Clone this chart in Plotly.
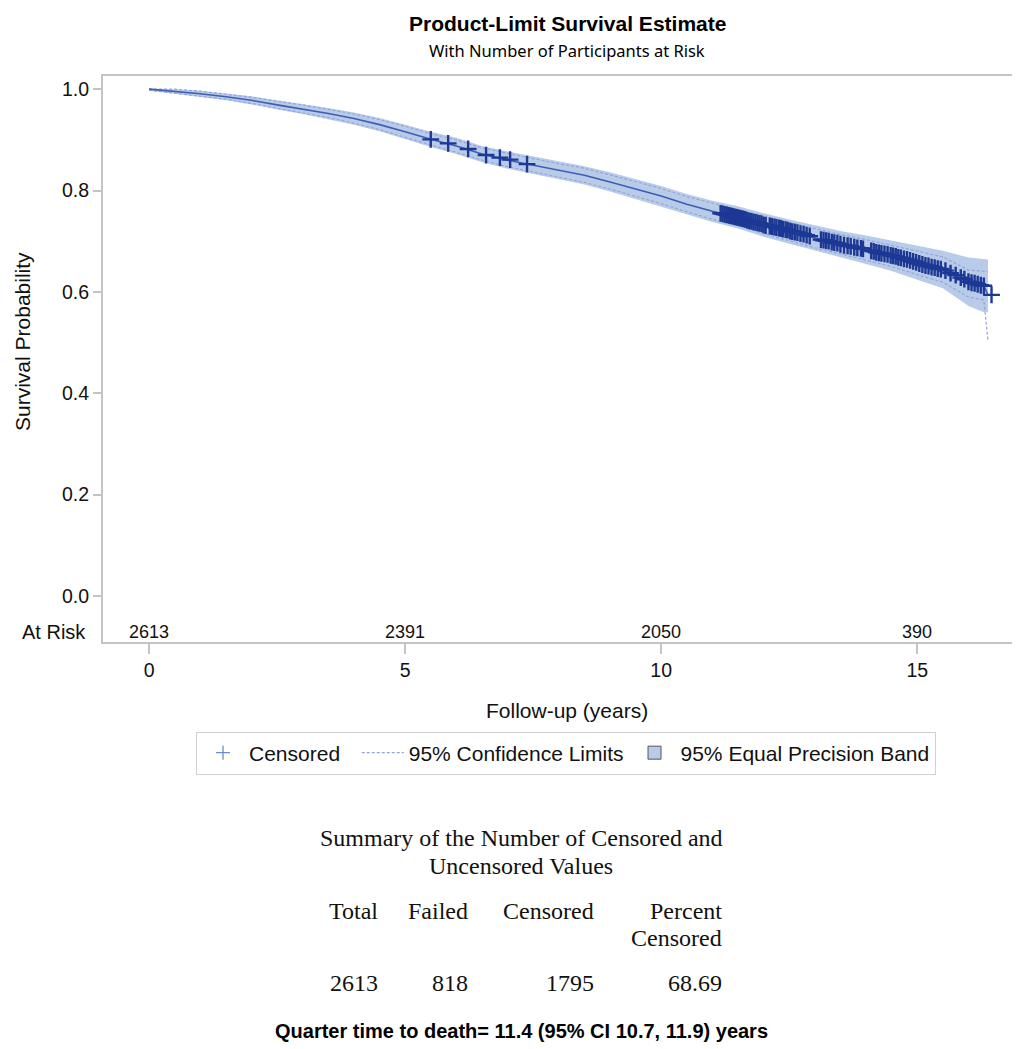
import plotly.graph_objects as go

# ---------------- data ----------------
time = [0, 0.5, 1, 1.5, 2, 2.5, 3, 3.5, 4, 4.5, 5, 5.5, 6, 6.5, 7, 7.5, 8, 8.5, 9, 9.5,
        10, 10.5, 11, 11.5, 12, 12.5, 13, 13.5, 14, 14.5, 15, 15.5, 16, 16.3, 16.38]
survival = [1.000, 0.996, 0.991, 0.985, 0.978, 0.969, 0.961, 0.952, 0.942, 0.930, 0.916,
            0.901, 0.888, 0.872, 0.860, 0.850, 0.840, 0.830, 0.817, 0.803, 0.789, 0.773,
            0.759, 0.747, 0.732, 0.719, 0.706, 0.694, 0.683, 0.671, 0.657, 0.644, 0.620,
            0.612, 0.594]
band_upper = [1.001, 1.000, 0.997, 0.992, 0.986, 0.978, 0.971, 0.963, 0.954, 0.943, 0.930,
              0.916, 0.904, 0.888, 0.877, 0.867, 0.858, 0.848, 0.836, 0.822, 0.809, 0.793,
              0.780, 0.769, 0.755, 0.743, 0.731, 0.720, 0.711, 0.701, 0.690, 0.681, 0.668,
              0.664, 0.664]
band_lower = [0.997, 0.991, 0.985, 0.978, 0.970, 0.960, 0.951, 0.941, 0.930, 0.917, 0.902,
              0.886, 0.872, 0.856, 0.843, 0.833, 0.822, 0.812, 0.798, 0.784, 0.769, 0.753,
              0.738, 0.725, 0.709, 0.695, 0.681, 0.668, 0.655, 0.641, 0.624, 0.607, 0.572,
              0.560, 0.560]
cl_upper = [1.000, 1.000, 0.996, 0.990, 0.984, 0.976, 0.969, 0.960, 0.951, 0.940, 0.927,
            0.912, 0.900, 0.884, 0.873, 0.863, 0.853, 0.844, 0.831, 0.817, 0.804, 0.788,
            0.775, 0.763, 0.749, 0.737, 0.725, 0.713, 0.703, 0.692, 0.680, 0.669, 0.643,
            0.640, 0.640]
cl_lower = [0.998, 0.992, 0.986, 0.980, 0.972, 0.962, 0.953, 0.944, 0.933, 0.920, 0.905,
            0.890, 0.876, 0.860, 0.847, 0.837, 0.827, 0.816, 0.803, 0.789, 0.774, 0.758,
            0.743, 0.731, 0.715, 0.701, 0.687, 0.675, 0.663, 0.650, 0.634, 0.619, 0.590,
            0.584, 0.505]

censor_time = [5.50, 5.84, 6.23, 6.58, 6.85, 7.05, 7.38,
               11.16, 11.20, 11.24, 11.28, 11.32, 11.36, 11.40, 11.44, 11.48, 11.52, 11.56,
               11.60, 11.64, 11.68, 11.72, 11.76, 11.80, 11.84, 11.88, 11.92, 11.96, 12.00, 12.04,
               12.12, 12.16, 12.21, 12.25, 12.30, 12.34, 12.38, 12.43, 12.47, 12.52, 12.56,
               12.61, 12.66, 12.72, 12.78, 12.84, 12.90,
               13.12, 13.17, 13.22, 13.27, 13.33, 13.38, 13.44, 13.50, 13.57, 13.64, 13.70,
               13.77, 13.83, 13.90, 13.94,
               14.10, 14.15, 14.20, 14.25, 14.30, 14.36, 14.42, 14.48, 14.53, 14.58, 14.63,
               14.68, 14.74, 14.80, 14.86, 14.92, 14.98, 15.04, 15.10, 15.16, 15.22, 15.28,
               15.34, 15.40, 15.46, 15.55,
               15.65, 15.75, 15.85, 15.92, 16.00, 16.06, 16.12, 16.18, 16.24, 16.30, 16.45]
censor_surv = [0.901, 0.893, 0.882, 0.870, 0.865, 0.861, 0.852,
               0.755, 0.754, 0.753, 0.752, 0.751, 0.750, 0.749, 0.748, 0.747, 0.746, 0.745,
               0.744, 0.743, 0.741, 0.740, 0.739, 0.738, 0.737, 0.736, 0.735, 0.734, 0.732, 0.731,
               0.730, 0.729, 0.728, 0.727, 0.726, 0.725, 0.724, 0.723, 0.722, 0.720, 0.719,
               0.718, 0.717, 0.715, 0.714, 0.712, 0.710,
               0.703, 0.702, 0.701, 0.700, 0.698, 0.697, 0.696, 0.694, 0.692, 0.691, 0.690,
               0.688, 0.687, 0.686, 0.685,
               0.681, 0.680, 0.678, 0.677, 0.676, 0.675, 0.674, 0.672, 0.671, 0.670, 0.668,
               0.667, 0.665, 0.664, 0.662, 0.660, 0.658, 0.656, 0.654, 0.652, 0.651, 0.649,
               0.648, 0.646, 0.645, 0.642,
               0.637, 0.633, 0.628, 0.625, 0.620, 0.618, 0.617, 0.615, 0.613, 0.612, 0.594]

at_risk_time = [0, 5, 10, 15]
at_risk_n = ["2613", "2391", "2050", "390"]
at_risk_y = -0.071

x_ticks = [0, 5, 10, 15]
y_ticks = [0.0, 0.2, 0.4, 0.6, 0.8, 1.0]
y_tick_text = ["0.0", "0.2", "0.4", "0.6", "0.8", "1.0"]

table_headers = ["Total", "Failed", "Censored", "Percent<br>Censored"]
table_values = ["2613", "818", "1795", "68.69"]

# ---------------- styling ----------------
W, H = 1018, 1049
L, R, T, B = 103, 1012, 76, 642
SANS = "Liberation Sans, Arial, sans-serif"
SERIF = "Liberation Serif, Times New Roman, serif"
LINE_BLUE = "#3d5eb3"
MARK_BLUE = "#1c3894"
BAND = "#b8cbe8"
CL_COL = "#95a5d8"
TXT = "#111111"
NB = "\u00a0"


def px(xp):
    return (xp - L) / (R - L)


def py(yp):
    return (B - yp) / (B - T)


fig = go.Figure()

# equal precision band
fig.add_trace(go.Scatter(
    x=time + time[::-1], y=band_upper + band_lower[::-1],
    fill="toself", fillcolor=BAND, line=dict(width=0, color=BAND),
    showlegend=False, hoverinfo="skip"))

# confidence limits
fig.add_trace(go.Scatter(
    x=time, y=cl_upper, mode="lines", line=dict(color=CL_COL, width=1.2, dash="3px,2px"),
    showlegend=False))
fig.add_trace(go.Scatter(
    x=time, y=cl_lower, mode="lines", line=dict(color=CL_COL, width=1.2, dash="3px,2px"),
    showlegend=False))

# survival curve
fig.add_trace(go.Scatter(
    x=time, y=survival, mode="lines", line=dict(color=LINE_BLUE, width=1.6),
    showlegend=False))

# censored marks
fig.add_trace(go.Scatter(
    x=censor_time, y=censor_surv, mode="markers",
    marker=dict(symbol="cross-thin", size=12, line=dict(color=MARK_BLUE, width=2.4)),
    showlegend=False))

# legend entries
fig.add_trace(go.Scatter(
    x=[None], y=[None], mode="markers", name="Censored" + NB * 2,
    marker=dict(symbol="cross-thin", size=10, line=dict(color="#6f8ccc", width=1.3))))
fig.add_trace(go.Scatter(
    x=[None], y=[None], mode="lines", name="95% Confidence Limits",
    line=dict(color=CL_COL, width=1.2, dash="3px,2px")))
fig.add_trace(go.Scatter(
    x=[None], y=[None], mode="markers", name="95% Equal Precision Band",
    marker=dict(symbol="square", size=13, color=BAND, line=dict(color="#555555", width=1))))

annotations = []
# at-risk numbers
for t, n in zip(at_risk_time, at_risk_n):
    annotations.append(dict(x=t, y=at_risk_y, xref="x", yref="y", text=n, showarrow=False,
                            xanchor="center", yanchor="middle",
                            font=dict(family=SANS, size=18, color=TXT)))
annotations.append(dict(x=0, y=at_risk_y, xref="paper", yref="y", text="At Risk",
                        showarrow=False, xanchor="right", yanchor="middle", xshift=-15,
                        font=dict(family=SANS, size=20, color=TXT)))

# axis titles
annotations.append(dict(x=px(22), y=py(342), xref="paper", yref="paper",
                        text="Survival Probability", textangle=-90, showarrow=False,
                        xanchor="center", yanchor="middle",
                        font=dict(family=SANS, size=21, color=TXT)))
annotations.append(dict(x=px(567), y=py(710), xref="paper", yref="paper",
                        text="Follow-up (years)", showarrow=False,
                        xanchor="center", yanchor="middle",
                        font=dict(family=SANS, size=21, color=TXT)))

# titles
annotations.append(dict(x=px(567), y=py(23), xref="paper", yref="paper",
                        text="<b>Product-Limit Survival Estimate</b>", showarrow=False,
                        xanchor="center", yanchor="middle",
                        font=dict(family=SANS, size=21, color="#000")))
annotations.append(dict(x=px(567), y=py(51), xref="paper", yref="paper",
                        text="With Number of Participants at Risk", showarrow=False,
                        xanchor="center", yanchor="middle",
                        font=dict(family="Noto Sans, Open Sans, sans-serif", size=16.5, color="#000")))

# summary table
annotations.append(dict(x=px(521), y=py(838), xref="paper", yref="paper",
                        text="Summary of the Number of Censored and",
                        showarrow=False, xanchor="center", yanchor="middle",
                        font=dict(family=SERIF, size=24, color=TXT)))
annotations.append(dict(x=px(521), y=py(866), xref="paper", yref="paper",
                        text="Uncensored Values",
                        showarrow=False, xanchor="center", yanchor="middle",
                        font=dict(family=SERIF, size=24, color=TXT)))
col_right = [380, 470, 596, 724]
for cx, hd, val in zip(col_right, table_headers, table_values):
    parts = hd.split("<br>")
    for i, ptxt in enumerate(parts):
        annotations.append(dict(x=px(cx), y=py(911 + 27 * i), xref="paper", yref="paper",
                                text=ptxt, showarrow=False, xanchor="right", yanchor="middle",
                                font=dict(family=SERIF, size=24, color=TXT)))
    annotations.append(dict(x=px(cx), y=py(983), xref="paper", yref="paper", text=val,
                            showarrow=False, xanchor="right", yanchor="middle",
                            font=dict(family=SERIF, size=24, color=TXT)))

annotations.append(dict(x=px(521), y=py(1031), xref="paper", yref="paper",
                        text="<b>Quarter time to death= 11.4 (95% CI 10.7, 11.9) years</b>",
                        showarrow=False, xanchor="center", yanchor="middle",
                        font=dict(family=SANS, size=20, color="#000")))

fig.update_layout(
    width=W, height=H,
    margin=dict(l=L, r=W - R, t=T, b=H - B, pad=0),
    paper_bgcolor="white", plot_bgcolor="white",
    font=dict(family=SANS, size=19, color=TXT),
    showlegend=True,
    legend=dict(orientation="h", x=px(566), y=py(753), xanchor="center", yanchor="middle",
                bordercolor="#d0d0d0", borderwidth=1, bgcolor="white",
                font=dict(family=SANS, size=21, color=TXT),
                itemwidth=42, tracegroupgap=0),
    annotations=annotations,
    xaxis=dict(range=[-0.9, 16.85], tickvals=x_ticks, ticktext=[str(v) for v in x_ticks],
               showgrid=False, zeroline=False, showline=True, mirror=True,
               linecolor="#c4c4c4", linewidth=2, ticks="outside", ticklen=10,
               tickcolor="#c4c4c4", tickwidth=1.5,
               tickfont=dict(family=SANS, size=19.5, color=TXT)),
    yaxis=dict(range=[-0.091, 1.026], tickvals=y_ticks, ticktext=y_tick_text,
               showgrid=False, zeroline=False, showline=True, mirror=False,
               linecolor="#c4c4c4", linewidth=2, ticks="outside", ticklen=8,
               tickcolor="#c4c4c4", tickwidth=1.5,
               tickfont=dict(family=SANS, size=19.5, color=TXT)),
)

fig.write_html("out.html", config={"displayModeBar": False},
               post_script="document.body.style.margin='0px';")
